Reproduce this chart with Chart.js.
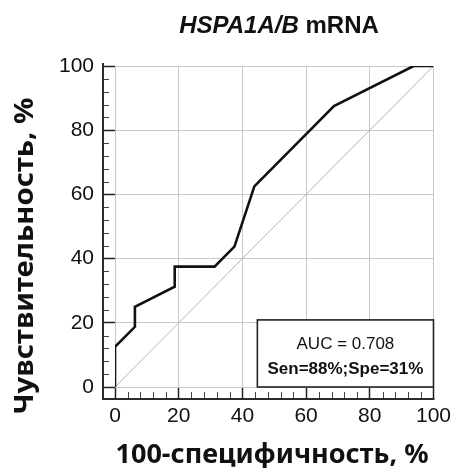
<!DOCTYPE html>
<html>
<head>
<meta charset="utf-8">
<script src="https://cdn.jsdelivr.net/npm/chart.js@4.4.1/dist/chart.umd.min.js"></script>
<style>
html,body{margin:0;padding:0;background:#fff;}
#wrap{width:456px;height:468px;}
</style>
</head>
<body>
<div id="wrap"><canvas id="c" width="456" height="468"></canvas></div>
<script>
// ---- data ----
const fprValues  = [0, 0, 6.25, 6.25, 18.75, 18.75, 31.25, 37.5, 43.75, 68.75, 93.75, 100];
const sensValues = [0, 12.5, 18.75, 25, 31.25, 37.5, 37.5, 43.75, 62.5, 87.5, 100, 100];
const diagX = [0, 100];
const diagY = [0, 100];
const xTickValues = [0, 20, 40, 60, 80, 100];
const yTickValues = [0, 20, 40, 60, 80, 100];
const titleItalic = 'HSPA1A/B';
const titleRest = ' mRNA';
const xTitle = '100-специфичность, %';
const yTitle = 'Чувствительность, %';
const aucText = 'AUC = 0.708';
const senSpeText = 'Sen=88%;Spe=31%';

const rocPoints = fprValues.map((x, i) => ({x: x, y: sensValues[i]}));
const diagPoints = diagX.map((x, i) => ({x: x, y: diagY[i]}));

const FONT = "'Liberation Sans', Arial, sans-serif";
const TITLE_FONT = "'Noto Sans', 'Open Sans', sans-serif";

function fitText(ctx, text, cx, cy, width, rot) {
  const w = ctx.measureText(text).width;
  ctx.save();
  ctx.translate(cx, cy);
  if (rot) ctx.rotate(rot);
  ctx.scale(width / w, 1);
  ctx.textAlign = 'center';
  ctx.textBaseline = 'alphabetic';
  ctx.fillText(text, 0, 0);
  ctx.restore();
}

const decor = {
  id: 'decor',
  afterDatasetsDraw(chart) {
    const ctx = chart.ctx;
    const xs = chart.scales.x, ys = chart.scales.y;
    // legend box
    const bx0 = xs.getPixelForValue(44.7), bx1 = xs.getPixelForValue(100);
    const by0 = ys.getPixelForValue(20.9), by1 = ys.getPixelForValue(0);
    ctx.save();
    ctx.fillStyle = '#fff';
    ctx.fillRect(bx0, by0, bx1 - bx0, by1 - by0);
    ctx.strokeStyle = '#222';
    ctx.lineWidth = 1.6;
    ctx.strokeRect(bx0, by0, bx1 - bx0, by1 - by0);
    ctx.fillStyle = '#111';
    ctx.textAlign = 'center';
    ctx.textBaseline = 'alphabetic';
    const cx = (bx0 + bx1) / 2;
    ctx.font = "17px " + FONT;
    ctx.fillText(aucText, cx, by0 + 29);
    ctx.font = "bold 17px " + FONT;
    ctx.fillText(senSpeText, cx, by0 + 54);
    ctx.restore();
  },
  afterDraw(chart) {
    const ctx = chart.ctx;
    const xs = chart.scales.x, ys = chart.scales.y;
    const ca = chart.chartArea;
    const axX = ca.left - 12;   // y axis line
    const axY = ca.bottom + 11; // x axis line
    ctx.save();
    ctx.strokeStyle = '#2a2a2a';
    ctx.lineWidth = 2;
    ctx.beginPath();
    ctx.moveTo(axX, ca.top - 3);
    ctx.lineTo(axX, axY + 1);
    ctx.lineTo(ca.right + 1, axY + 1);
    ctx.stroke();
    // minor ticks
    ctx.lineWidth = 1;
    ctx.strokeStyle = '#444';
    for (let v = 0; v <= 100; v += 4) {
      if (v % 20 === 0) continue;
      const px = Math.round(xs.getPixelForValue(v)) + 0.5;
      ctx.beginPath();
      ctx.moveTo(px, axY);
      ctx.lineTo(px, axY - 6);
      ctx.stroke();
      const py = Math.round(ys.getPixelForValue(v)) + 0.5;
      ctx.beginPath();
      ctx.moveTo(axX, py);
      ctx.lineTo(axX + 6, py);
      ctx.stroke();
    }
    // chart title
    ctx.fillStyle = '#111';
    ctx.textBaseline = 'alphabetic';
    ctx.textAlign = 'left';
    ctx.font = "italic bold 24px " + FONT;
    const w1 = ctx.measureText(titleItalic).width;
    ctx.font = "bold 24px " + FONT;
    const w2 = ctx.measureText(titleRest).width;
    const tx = 279 - (w1 + w2) / 2;
    ctx.font = "italic bold 24px " + FONT;
    ctx.fillText(titleItalic, tx, 33);
    ctx.font = "bold 24px " + FONT;
    ctx.fillText(titleRest, tx + w1, 33);
    // axis titles
    ctx.font = "bold 26px " + TITLE_FONT;
    fitText(ctx, xTitle, 272, 463, 313, 0);
    fitText(ctx, yTitle, 33, 256, 317, -Math.PI / 2);
    ctx.restore();
  }
};

new Chart(document.getElementById('c'), {
  type: 'scatter',
  data: {
    datasets: [
      {
        label: 'diag',
        data: diagPoints,
        showLine: true,
        borderColor: '#b4b4b4',
        borderWidth: 1,
        pointRadius: 0,
        order: 2
      },
      {
        label: 'ROC',
        data: rocPoints,
        showLine: true,
        borderColor: '#111',
        borderWidth: 2.6,
        pointRadius: 0,
        tension: 0,
        borderJoinStyle: 'miter',
        order: 1
      }
    ]
  },
  options: {
    responsive: false,
    animation: false,
    devicePixelRatio: 1,
    layout: { padding: { top: 66, right: 21, left: 0, bottom: 0 } },
    plugins: { legend: { display: false }, title: { display: false }, tooltip: { enabled: false } },
    scales: {
      x: {
        type: 'linear',
        min: 0, max: 100,
        afterBuildTicks: (s) => { s.ticks = xTickValues.map(v => ({value: v})); },
        ticks: { font: { family: FONT, size: 21 }, color: '#111', padding: 5, maxRotation: 0 },
        grid: { color: '#c8c8c8', lineWidth: 1, tickLength: 12, tickColor: '#222', tickWidth: 1.5 },
        border: { display: false },
        afterFit: (s) => { s.height = 81; }
      },
      y: {
        type: 'linear',
        min: 0, max: 100,
        afterBuildTicks: (s) => { s.ticks = yTickValues.map(v => ({value: v})); },
        ticks: { font: { family: FONT, size: 21 }, color: '#111', padding: 9 },
        grid: { color: '#c8c8c8', lineWidth: 1, tickLength: 12, tickColor: '#222', tickWidth: 1.5 },
        border: { display: false },
        afterFit: (s) => { s.width = 115; }
      }
    }
  },
  plugins: [decor]
});
</script>
</body>
</html>
